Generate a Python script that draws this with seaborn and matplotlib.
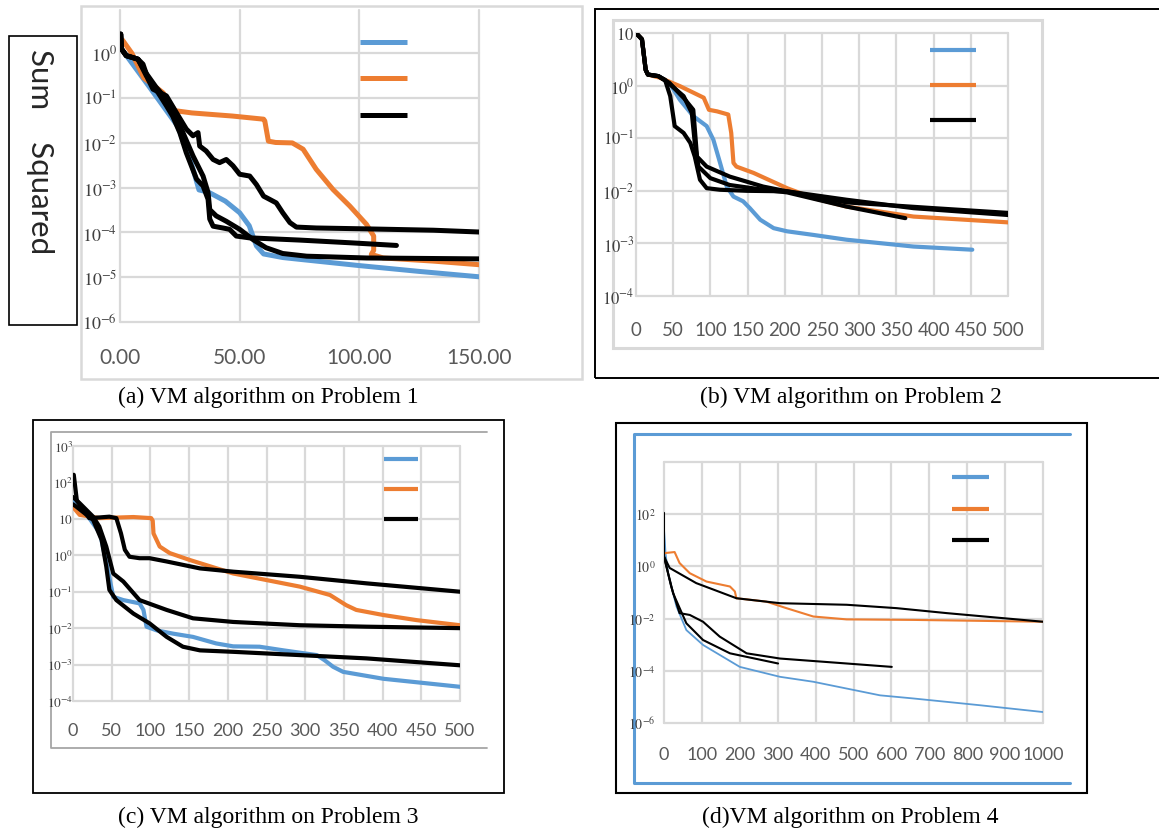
import numpy as np
import matplotlib
matplotlib.use("Agg")
import matplotlib.pyplot as plt
import seaborn as sns
from matplotlib.lines import Line2D
from matplotlib.patches import Rectangle

sns.set_style("white")
plt.rcParams["font.family"] = ["Lato", "DejaVu Sans"]
plt.rcParams["mathtext.fontset"] = "stix"

BLUE = "#5B9BD5"
ORANGE = "#ED7D31"
BLACK = "#000000"

# ---- panel (a): values are log10 of sum squared ----
a_blue_x = [2, 12, 24, 29, 33, 37, 44, 50, 54, 57, 60, 68, 75, 100, 125, 150]
a_blue_y = [0.0, -0.73, -1.62, -2.3, -3.05, -3.1, -3.3, -3.56, -3.85, -4.3, -4.48, -4.56, -4.6, -4.74, -4.87, -4.99]
a_orange_x = [1, 5, 10, 18, 23, 30, 47, 60, 60.5, 62, 65, 72, 76.5, 82, 89, 96, 103, 106, 106, 105, 110, 131, 150]
a_orange_y = [0.3, 0.0, -0.55, -0.88, -1.28, -1.33, -1.40, -1.47, -1.51, -1.96, -1.99, -2.0, -2.14, -2.59, -3.04, -3.41, -3.82, -4.08, -4.4, -4.49, -4.57, -4.64, -4.72]
a_black1_x = [0.3, 0.6, 2.6, 7.5, 9.6, 11.7, 13.8, 19.4, 23.5, 27.7, 30.5, 32.6, 33.3, 36, 38.9, 41.6, 44.4, 47.2, 50, 54.2, 57, 60, 62.5, 65.3, 68, 71, 73.7, 82, 103, 131, 150]
a_black1_y = [0.43, 0.1, -0.05, -0.13, -0.24, -0.57, -0.8, -0.95, -1.32, -1.69, -1.84, -1.77, -2.07, -2.18, -2.37, -2.44, -2.37, -2.51, -2.7, -2.74, -2.93, -3.19, -3.26, -3.34, -3.56, -3.78, -3.88, -3.9, -3.92, -3.95, -3.99]
a_black2_x = [0.3, 0.6, 2.6, 7.5, 11, 15, 19.4, 22, 25, 27.7, 32, 34.7, 36.8, 37.5, 38.9, 43, 45.8, 48.6, 54, 75, 96, 115.5]
a_black2_y = [0.43, 0.1, -0.05, -0.13, -0.5, -0.8, -1.17, -1.4, -1.77, -2.22, -2.81, -2.96, -3.26, -3.7, -3.86, -3.9, -3.93, -4.08, -4.12, -4.17, -4.23, -4.29]
a_black3_x = [0.3, 0.6, 2.6, 7.5, 11, 15, 19, 22, 26.3, 30.5, 34.7, 36.8, 37.5, 40.2, 44.4, 50, 55.6, 61, 68, 78, 103, 150]
a_black3_y = [0.43, 0.1, -0.05, -0.13, -0.45, -0.75, -1.0, -1.32, -1.77, -2.29, -2.74, -3.11, -3.49, -3.63, -3.75, -3.93, -4.16, -4.34, -4.47, -4.53, -4.57, -4.59]
a_xticks = [0, 50, 100, 150]
a_xlabels = ["0.00", "50.00", "100.00", "150.00"]
a_yticks = [-6, -5, -4, -3, -2, -1, 0]
a_ylabels = ["$10^{-6}$", "$10^{-5}$", "$10^{-4}$", "$10^{-3}$", "$10^{-2}$", "$10^{-1}$", "$10^{0}$"]

# ---- panel (b) ----
b_blue_x = [0, 8, 13, 16, 30, 45, 59, 77, 95, 104, 113, 122, 131, 144, 153, 167, 185, 203, 239, 283, 373, 452]
b_blue_y = [1.0, 0.88, 0.3, 0.21, 0.18, 0.05, -0.27, -0.58, -0.77, -1.03, -1.47, -1.92, -2.11, -2.2, -2.33, -2.55, -2.71, -2.77, -2.84, -2.93, -3.06, -3.12]
b_orange_x = [0, 8, 13, 16, 32, 59, 91, 98, 109, 124, 128, 131, 135, 158, 203, 239, 283, 373, 500]
b_orange_y = [1.0, 0.88, 0.3, 0.21, 0.15, -0.01, -0.23, -0.46, -0.49, -0.55, -0.9, -1.47, -1.54, -1.66, -1.95, -2.14, -2.3, -2.49, -2.6]
b_black1_x = [0, 8, 13, 16, 30, 39, 46, 52, 64, 73, 79, 86, 95, 113, 149, 203, 283, 373, 500]
b_black1_y = [1.0, 0.88, 0.3, 0.21, 0.18, 0.11, -0.2, -0.77, -0.9, -1.09, -1.35, -1.79, -1.95, -1.98, -2.0, -2.01, -2.17, -2.33, -2.46]
b_black2_x = [0, 8, 13, 16, 30, 41, 64, 75, 79, 84, 100, 126, 171, 203, 283, 362]
b_black2_y = [1.0, 0.88, 0.3, 0.21, 0.18, 0.08, -0.2, -0.52, -1.09, -1.54, -1.76, -1.89, -1.98, -2.03, -2.3, -2.52]
b_black3_x = [0, 8, 13, 16, 30, 45, 65, 77, 82, 95, 126, 171, 203, 283, 400, 500]
b_black3_y = [1.0, 0.88, 0.3, 0.21, 0.18, 0.05, -0.25, -0.46, -1.35, -1.54, -1.73, -1.92, -2.01, -2.22, -2.33, -2.42]
b_xticks = list(range(0, 501, 50))
b_xlabels = [str(v) for v in b_xticks]
b_yticks = [-4, -3, -2, -1, 0, 1]
b_ylabels = ["$10^{-4}$", "$10^{-3}$", "$10^{-2}$", "$10^{-1}$", "$10^{0}$", "$10$"]

# ---- panel (c) ----
c_blue_x = [1, 6, 20, 35, 45, 52, 65, 86, 91, 95, 108, 129, 155, 185, 207, 241, 272, 315, 325, 336, 349, 401, 500]
c_blue_y = [1.5, 1.25, 1.05, 0.6, -0.4, -1.14, -1.23, -1.32, -1.5, -1.96, -2.06, -2.15, -2.24, -2.42, -2.5, -2.51, -2.61, -2.74, -2.88, -3.06, -3.2, -3.39, -3.61]
c_orange_x = [1, 8.6, 34, 78, 101, 103, 104, 112, 125, 151, 207, 250, 293, 332, 353, 366, 401, 444, 500]
c_orange_y = [1.3, 1.11, 1.02, 1.05, 1.02, 0.95, 0.6, 0.24, 0.06, -0.13, -0.5, -0.68, -0.86, -1.09, -1.37, -1.5, -1.64, -1.78, -1.92]
c_black1_x = [1, 5, 21, 35, 47, 56, 62, 67, 73, 86, 99, 121, 164, 207, 293, 379, 500]
c_black1_y = [2.21, 1.5, 1.02, 1.04, 1.06, 1.02, 0.6, 0.15, -0.04, -0.08, -0.08, -0.17, -0.36, -0.45, -0.59, -0.77, -1.0]
c_black2_x = [0, 8.6, 26, 34, 43, 52, 65, 86, 121, 155, 207, 293, 379, 500]
c_black2_y = [1.6, 1.43, 1.06, 0.79, 0.24, -0.5, -0.72, -1.23, -1.5, -1.73, -1.83, -1.92, -1.96, -2.0]
c_black3_x = [0, 4, 26, 37, 43, 47, 56, 78, 99, 121, 142, 164, 207, 293, 379, 500]
c_black3_y = [1.4, 1.34, 0.97, 0.42, -0.31, -0.95, -1.23, -1.6, -1.87, -2.24, -2.51, -2.61, -2.65, -2.74, -2.83, -3.02]
c_xticks = list(range(0, 501, 50))
c_xlabels = [str(v) for v in c_xticks]
c_yticks = [-4, -3, -2, -1, 0, 1, 2, 3]
c_ylabels = ["$10^{-4}$", "$10^{-3}$", "$10^{-2}$", "$10^{-1}$", "$10^{0}$", "$10$", "$10^{2}$", "$10^{3}$"]

# ---- panel (d) ----
d_blue_x = [0, 2, 4, 10.6, 33, 59, 103, 200, 306, 394, 482, 570, 658, 834, 1000]
d_blue_y = [1.4, 1.0, 0.5, -0.26, -1.54, -2.44, -3.01, -3.85, -4.23, -4.42, -4.68, -4.94, -5.06, -5.32, -5.58]
d_orange_x = [0, 2, 28, 41, 68, 112, 174, 187, 191, 270, 323, 394, 482, 658, 1000]
d_orange_y = [0.45, 0.51, 0.55, 0.13, -0.26, -0.58, -0.77, -0.96, -1.22, -1.35, -1.6, -1.92, -2.03, -2.05, -2.12]
d_black1_x = [0, 0, 15, 85, 191, 306, 482, 614, 746, 1000]
d_black1_y = [2.05, 0.38, -0.06, -0.64, -1.22, -1.41, -1.47, -1.6, -1.79, -2.12]
d_black2_x = [0, 19, 41, 68, 103, 147, 218, 306, 482, 601]
d_black2_y = [0.38, -0.77, -1.79, -1.86, -2.12, -2.69, -3.33, -3.53, -3.72, -3.85]
d_black3_x = [0, 24, 59, 103, 174, 301]
d_black3_y = [0.38, -1.03, -2.18, -2.82, -3.33, -3.72]
d_xticks = list(range(0, 1001, 100))
d_xlabels = [str(v) for v in d_xticks]
d_yticks = [-6, -4, -2, 0, 2, 4]
d_ylabels = ["$10^{-6}$", "$10^{-4}$", "$10^{-2}$", "$10^{0}$", "$10^{2}$", ""]

captions = ["(a) VM algorithm on Problem 1", "(b) VM algorithm on Problem 2",
            "(c) VM algorithm on Problem 3", "(d)VM algorithm on Problem 4"]

W, H = 1159, 834
fig = plt.figure(figsize=(W / 100, H / 100), dpi=100)


def box(x0, y0, x1, y1):
    # pixel box (top-left origin) -> figure fraction
    return [x0 / W, 1 - y1 / H, (x1 - x0) / W, (y1 - y0) / H]


def rect(x0, y0, x1, y1, color, lw):
    fig.add_artist(Rectangle((x0 / W, 1 - y1 / H), (x1 - x0) / W, (y1 - y0) / H,
                             transform=fig.transFigure, fill=False, edgecolor=color,
                             lw=lw, zorder=-5))


def polyline(pts, color, lw):
    fig.add_artist(Line2D([p[0] / W for p in pts], [1 - p[1] / H for p in pts],
                          transform=fig.transFigure, color=color, lw=lw, zorder=-5))


def panel(pos, curves, xmax, xticks, xlabels, ylim, yticks, ylabels,
          xsize, ysize, xpad, ypad, leg):
    ax = fig.add_axes(pos)
    for xs, ys, c, lw in curves:
        sns.lineplot(x=np.array(xs, dtype=float), y=10.0 ** np.array(ys), color=c,
                     linewidth=lw, estimator=None, sort=False, ax=ax, legend=False)
    for ln in ax.lines:
        ln.set_solid_capstyle("round")
        ln.set_solid_joinstyle("round")
        ln.set_zorder(4)
    ax.set_yscale("log")
    ax.set_xlim(0, xmax)
    ax.set_ylim(10.0 ** ylim[0], 10.0 ** ylim[1])
    ax.set_xticks(xticks)
    ax.set_xticklabels(xlabels, fontsize=xsize, color="#595959")
    ax.set_yticks([10.0 ** e for e in yticks])
    ax.set_yticklabels(ylabels, fontsize=ysize, color="#404040")
    ax.yaxis.set_minor_locator(matplotlib.ticker.NullLocator())
    ax.tick_params(length=0)
    ax.tick_params(axis="x", pad=xpad)
    ax.tick_params(axis="y", pad=ypad)
    ax.grid(True, color="#D9D9D9", lw=1.6)
    ax.xaxis.set_zorder(1)
    ax.yaxis.set_zorder(1.5)
    for g in ax.get_xgridlines() + ax.get_ygridlines():
        g.set_clip_on(False)
    for s in ax.spines.values():
        s.set_visible(False)
    ax.set_facecolor("none")
    ax.set_xlabel("")
    ax.set_ylabel("")
    lx, ly, hl, ls, llw = leg
    handles = [Line2D([], [], color=c, lw=llw, solid_capstyle="butt") for c in (BLUE, ORANGE, BLACK)]
    lg = ax.legend(handles, ["", "", ""], loc="upper left", bbox_to_anchor=(lx, ly), frameon=False,
                   fontsize=10, handlelength=hl, labelspacing=ls, borderpad=0, borderaxespad=0,
                   handletextpad=0)
    lg.set_zorder(6)
    return ax


# frames
rect(81, 6, 582, 379, "#D9D9D9", 1.8)
rect(9, 36, 77, 325, "#000000", 1.2)
rect(595, 9, 1175, 378, "#000000", 1.4)
rect(613, 20, 1042, 348, "#D9D9D9", 2.2)
rect(33, 420, 504, 793, "#000000", 1.3)
polyline([(487, 432), (51, 432), (51, 748), (487, 748)], "#A6A6A6", 1.3)
rect(616, 423, 1087, 793, "#000000", 1.5)
polyline([(1070, 434), (634, 434), (634, 783), (1070, 783)], BLUE, 2.2)

lwa = 3.6
panel(box(120, 9.5, 479, 322),
      [(a_blue_x, a_blue_y, BLUE, lwa), (a_orange_x, a_orange_y, ORANGE, lwa),
       (a_black1_x, a_black1_y, BLACK, lwa), (a_black2_x, a_black2_y, BLACK, lwa),
       (a_black3_x, a_black3_y, BLACK, lwa)],
      150, a_xticks, a_xlabels, (-6, 0.98), a_yticks, a_ylabels,
      15, 13, 19, 2, (0.668, 0.912, 3.4, 1.75, lwa))

lwb = 3.0
panel(box(636, 33, 1008, 296),
      [(b_blue_x, b_blue_y, BLUE, lwb), (b_orange_x, b_orange_y, ORANGE, lwb),
       (b_black1_x, b_black1_y, BLACK, lwb), (b_black2_x, b_black2_y, BLACK, lwb),
       (b_black3_x, b_black3_y, BLACK, lwb)],
      500, b_xticks, b_xlabels, (-4, 1), b_yticks, b_ylabels,
      13.5, 12, 19, 1, (0.79, 0.954, 3.3, 1.65, lwb))

lwc = 3.0
panel(box(73, 446, 460, 701),
      [(c_blue_x, c_blue_y, BLUE, lwc), (c_orange_x, c_orange_y, ORANGE, lwc),
       (c_black1_x, c_black1_y, BLACK, lwc), (c_black2_x, c_black2_y, BLACK, lwc),
       (c_black3_x, c_black3_y, BLACK, lwc)],
      500, c_xticks, c_xlabels, (-4, 3), c_yticks, c_ylabels,
      13, 9.5, 16, 0, (0.804, 0.969, 2.45, 1.3, lwc))

panel(box(664, 462, 1043, 723),
      [(d_blue_x, d_blue_y, BLUE, 1.3), (d_orange_x, d_orange_y, ORANGE, 1.5),
       (d_black1_x, d_black1_y, BLACK, 1.5), (d_black2_x, d_black2_y, BLACK, 1.5),
       (d_black3_x, d_black3_y, BLACK, 1.5)],
      1000, d_xticks, d_xlabels, (-6, 4), d_yticks, d_ylabels,
      13, 10, 17, 6, (0.76, 0.962, 2.65, 1.4, 3.0))

fig.text(40 / W, 1 - 152 / H, "Sum    Squared", rotation=-90, ha="center", va="center",
         fontsize=22.5, color="#262626")

for (cx, cy), cap in zip([(268, 397), (851, 397), (268, 817), (850, 817)], captions):
    fig.text(cx / W, 1 - cy / H, cap, ha="center", va="center", fontsize=17,
             family=["Liberation Serif", "DejaVu Serif"], color="#000000")

fig.savefig("out.png", dpi=100)
